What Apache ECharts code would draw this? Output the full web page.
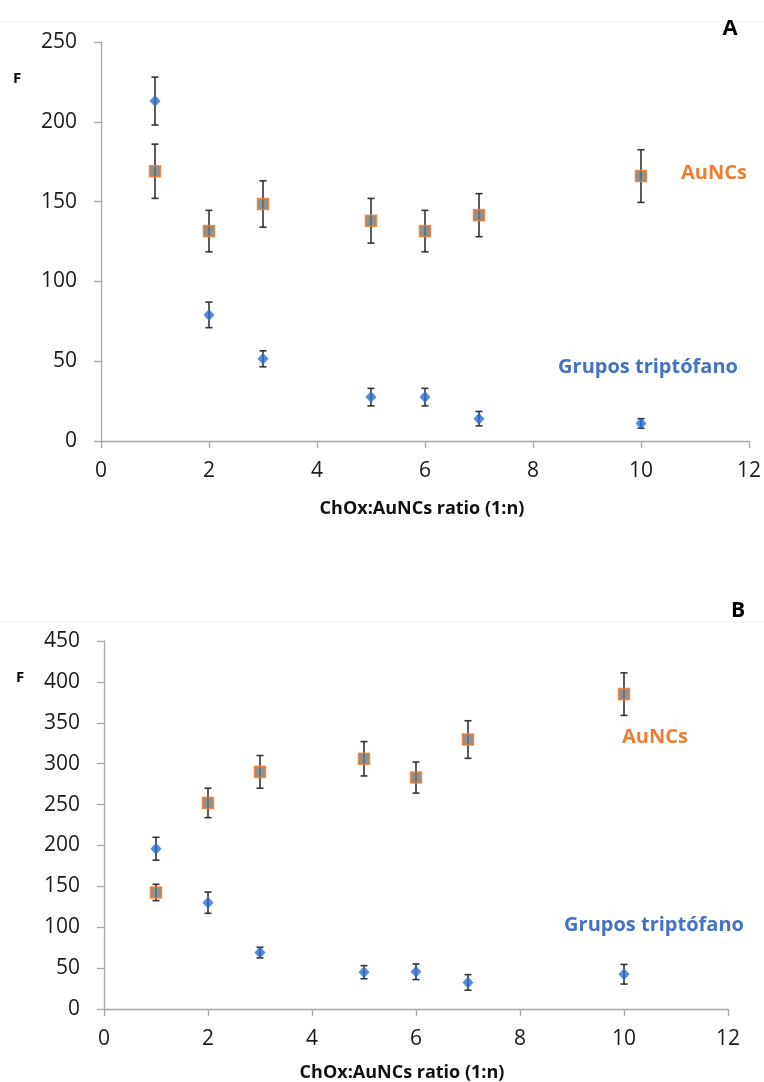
<!DOCTYPE html>
<html>
<head>
<meta charset="utf-8">
<script src="https://cdn.jsdelivr.net/npm/echarts@6/dist/echarts.min.js"></script>
<style>
  html, body { margin: 0; padding: 0; background: #fff; }
  #chart { width: 764px; height: 1082px; }
</style>
</head>
<body>
<div id="chart"></div>
<script>
// ratio ChOx:AuNCs (1:n)
const ratios = [1, 2, 3, 5, 6, 7, 10]

// panel A
const trpA = [213, 79, 51.5, 27.5, 27.5, 14, 11]
const trpErrA = [15, 8, 5, 5.5, 5.5, 4.5, 3]
const aucA = [169, 131.5, 148.5, 138, 131.5, 141.5, 166]
const aucErrA = [17, 13, 14.5, 14, 13, 13.5, 16.5]

// panel B
const trpB = [196, 130, 69, 45, 45.5, 32.5, 42.5]
const trpErrB = [14, 13, 6.5, 8, 9.5, 9.5, 12]
const aucB = [142.5, 252, 290, 306, 283, 329.5, 385]
const aucErrB = [10, 18, 20, 21, 19, 23, 26]

const BLUE = '#2f6ccf'
const ORANGE = '#ed7d31'
const FONT = 'Open Sans'

const chart = echarts.init(document.getElementById('chart'))

const pts = (vals) => ratios.map((x, i) => [x, vals[i]])
const errs = (vals, e) => ratios.map((x, i) => [x, vals[i] - e[i], vals[i] + e[i]])

// error bar drawn with the axis scales
const renderErr = (params, api) => {
  const x = api.value(0)
  const lo = api.coord([x, api.value(1)])
  const hi = api.coord([x, api.value(2)])
  const w = 3.5
  const style = { stroke: '#333', lineWidth: 1.6 }
  return {
    type: 'group',
    children: [
      { type: 'line', shape: { x1: lo[0], y1: lo[1], x2: hi[0], y2: hi[1] }, style },
      { type: 'line', shape: { x1: hi[0] - w, y1: hi[1], x2: hi[0] + w, y2: hi[1] }, style },
      { type: 'line', shape: { x1: lo[0] - w, y1: lo[1], x2: lo[0] + w, y2: lo[1] }, style }
    ]
  }
}

const xAxisBase = (gridIndex) => ({
  type: 'value',
  gridIndex,
  min: 0,
  max: 12,
  interval: 2,
  splitLine: { show: false },
  axisLine: { onZero: false, lineStyle: { color: '#a6a6a6', width: 1.3 } },
  axisTick: { length: 7, lineStyle: { color: '#a6a6a6', width: 1.3 } },
  axisLabel: { color: '#1a1a1a', fontSize: 21, fontFamily: FONT, margin: 20 }
})

const yAxisBase = (gridIndex, max) => ({
  type: 'value',
  gridIndex,
  min: 0,
  max,
  interval: 50,
  splitLine: { show: false },
  axisLine: { show: true, lineStyle: { color: '#a6a6a6', width: 1.3 } },
  axisTick: { show: true, length: 7, lineStyle: { color: '#a6a6a6', width: 1.3 } },
  axisLabel: { color: '#1a1a1a', fontSize: 21, fontFamily: FONT, margin: 24 }
})

const errSeries = (idx, data) => ({
  type: 'custom',
  xAxisIndex: idx,
  yAxisIndex: idx,
  data,
  renderItem: renderErr,
  z: 2,
  silent: true
})

const trpSeries = (idx, data) => ({
  type: 'scatter',
  xAxisIndex: idx,
  yAxisIndex: idx,
  data,
  symbol: 'diamond',
  symbolSize: [11, 12],
  itemStyle: { color: BLUE },
  z: 3
})

const aucSeries = (idx, data) => ({
  type: 'scatter',
  xAxisIndex: idx,
  yAxisIndex: idx,
  data,
  symbol: 'rect',
  symbolSize: 11,
  itemStyle: { color: '#747474', borderColor: ORANGE, borderWidth: 1.6 },
  z: 3
})

const txt = (text, x, y, size, color) => ({
  type: 'text',
  x,
  y,
  style: {
    text,
    fill: color,
    font: `bold ${size}px "${FONT}"`,
    textAlign: 'center',
    textVerticalAlign: 'middle'
  }
})

const option = {
  animation: false,
  grid: [
    { left: 101, top: 42, right: 13, bottom: 641 },
    { left: 104, top: 641, right: 36, bottom: 73 }
  ],
  xAxis: [xAxisBase(0), xAxisBase(1)],
  yAxis: [yAxisBase(0, 250), yAxisBase(1, 450)],
  series: [
    errSeries(0, errs(trpA, trpErrA)),
    errSeries(0, errs(aucA, aucErrA)),
    trpSeries(0, pts(trpA)),
    aucSeries(0, pts(aucA)),
    errSeries(1, errs(trpB, trpErrB)),
    errSeries(1, errs(aucB, aucErrB)),
    trpSeries(1, pts(trpB)),
    aucSeries(1, pts(aucB))
  ],
  graphic: [
    { type: 'line', shape: { x1: 0, y1: 22, x2: 764, y2: 22 }, style: { stroke: '#f2f2f2', lineWidth: 1 } },
    { type: 'line', shape: { x1: 0, y1: 622, x2: 764, y2: 622 }, style: { stroke: '#f2f2f2', lineWidth: 1 } },
    txt('A', 730, 29, 22, '#000'),
    txt('F', 17, 79, 15, '#000'),
    txt('AuNCs', 714, 173, 20, ORANGE),
    txt('Grupos triptófano', 648, 367, 20, '#4472c4'),
    txt('ChOx:AuNCs ratio (1:n)', 422, 509, 18, '#111'),
    txt('B', 738, 611, 21, '#000'),
    txt('F', 20, 678, 15, '#000'),
    txt('AuNCs', 655, 737, 20, ORANGE),
    txt('Grupos triptófano', 654, 925, 20, '#4472c4'),
    txt('ChOx:AuNCs ratio (1:n)', 402, 1073, 18, '#111')
  ]
}

chart.setOption(option)
</script>
</body>
</html>
